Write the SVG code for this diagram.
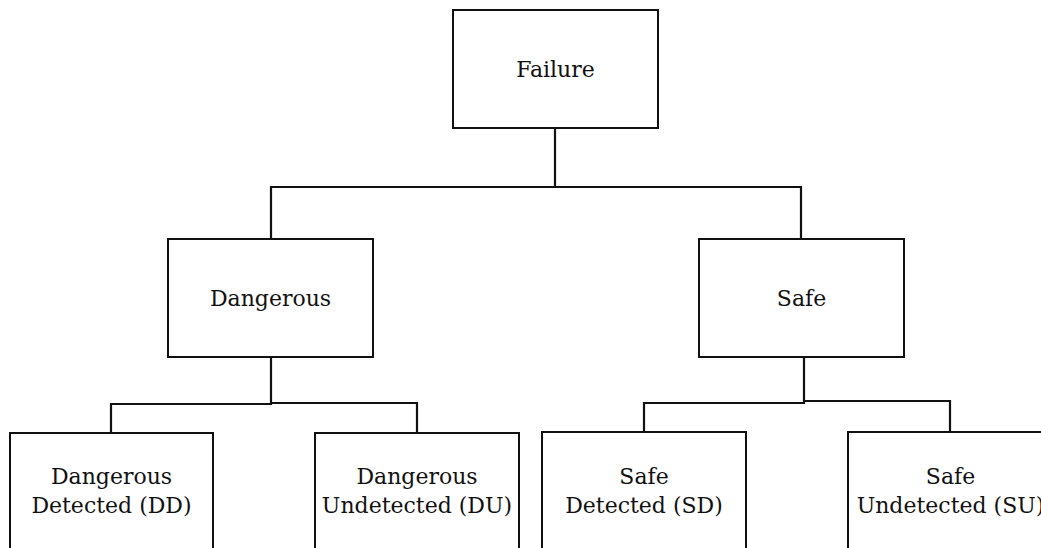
<svg xmlns="http://www.w3.org/2000/svg" width="1041" height="548" viewBox="0 0 1041 548">
  <style>
    .box { fill: #ffffff; stroke: #111111; stroke-width: 2; }
    .lbl { font-family: "DejaVu Serif", "Liberation Serif", serif; font-size: 22px; fill: #111111; text-anchor: middle; }
    .wire { fill: none; stroke: #111111; stroke-width: 2.2; stroke-linejoin: miter; stroke-linecap: square; }
  </style>
  <rect width="1041" height="548" fill="#ffffff"/>

  <!-- tree connectors -->
  <g id="connectors">
    <path class="wire" d="M555,129 V187 M271,187 H801 M271,187 V238 M801,187 V238"/>
    <path class="wire" d="M271,358 V404 M111,404 H271 M111,404 V432 M271,403 H417 V432"/>
    <path class="wire" d="M804,354 V402 M644,403 H804 M644,403 V432 M804,401 H950 V431"/>
  </g>

  <g id="failure">
    <rect class="box" x="453" y="10" width="205" height="118"/>
    <text class="lbl" x="555.5" y="77">Failure</text>
  </g>

  <g id="dangerous">
    <rect class="box" x="168" y="239" width="205" height="118"/>
    <text class="lbl" x="270.5" y="306">Dangerous</text>
  </g>

  <g id="safe">
    <rect class="box" x="699" y="239" width="205" height="118"/>
    <text class="lbl" x="801.5" y="306">Safe</text>
  </g>

  <g id="dd">
    <rect class="box" x="10" y="433" width="203" height="118"/>
    <text class="lbl" x="111.5" y="484">Dangerous</text>
    <text class="lbl" x="111.5" y="513">Detected (DD)</text>
  </g>

  <g id="du">
    <rect class="box" x="315" y="433" width="204" height="118"/>
    <text class="lbl" x="417" y="484">Dangerous</text>
    <text class="lbl" x="417" y="513">Undetected (DU)</text>
  </g>

  <g id="sd">
    <rect class="box" x="542" y="432" width="204" height="118"/>
    <text class="lbl" x="644" y="484">Safe</text>
    <text class="lbl" x="644" y="513">Detected (SD)</text>
  </g>

  <g id="su">
    <rect class="box" x="848" y="432" width="205" height="118"/>
    <text class="lbl" x="950.5" y="484">Safe</text>
    <text class="lbl" x="950.5" y="513">Undetected (SU)</text>
  </g>
</svg>
